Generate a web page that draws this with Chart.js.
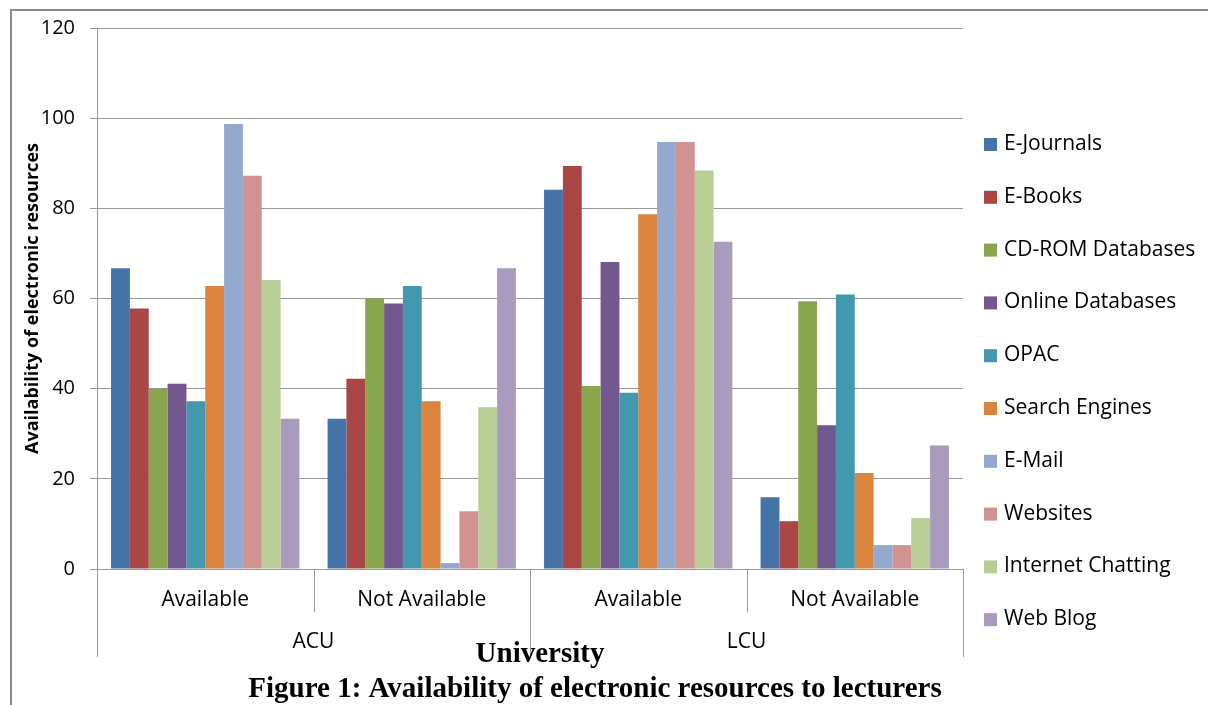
<!DOCTYPE html>
<html>
<head>
<meta charset="utf-8">
<script src="https://cdn.jsdelivr.net/npm/chart.js@4.4.0/dist/chart.umd.min.js"></script>
<style>
  body { margin: 0; background: #fff; }
  canvas { display: block; }
</style>
</head>
<body>
<canvas id="resChart" width="1208" height="705"></canvas>
<script>
// inner categories and outer groups of the x axis
var categories = ['Available', 'Not Available', 'Available', 'Not Available'];
var universities = ['ACU', 'LCU'];
var yTicks = [0, 20, 40, 60, 80, 100, 120];

// values: ACU available, ACU not available, LCU available, LCU not available
var eJournals = [66.7, 33.3, 84.1, 15.9];
var eBooks = [57.8, 42.2, 89.4, 10.6];
var cdRom = [40.0, 60.0, 40.6, 59.4];
var onlineDb = [41.1, 58.9, 68.1, 31.9];
var opac = [37.2, 62.8, 39.1, 60.9];
var searchEngines = [62.8, 37.2, 78.7, 21.3];
var eMail = [98.7, 1.3, 94.7, 5.3];
var websites = [87.2, 12.8, 94.7, 5.3];
var chatting = [64.1, 35.9, 88.4, 11.3];
var webBlog = [33.3, 66.7, 72.6, 27.4];

var seriesNames = ['E-Journals', 'E-Books', 'CD-ROM Databases', 'Online Databases', 'OPAC',
  'Search Engines', 'E-Mail', 'Websites', 'Internet Chatting', 'Web Blog'];
var seriesValues = [eJournals, eBooks, cdRom, onlineDb, opac, searchEngines, eMail, websites, chatting, webBlog];
var seriesColors = ['#4572A7', '#AA4643', '#89A54E', '#71588F', '#4198AF',
  '#DB843D', '#93A9CF', '#D19392', '#B9CD96', '#A99BBD'];

var sans = "'Open Sans', sans-serif";
var serif = "'Liberation Serif', 'Times New Roman', serif";
var lineCol = '#999999';

// frame, axis separators, group labels, legend and captions
var extras = {
  id: 'extras',
  beforeDraw: function (chart) {
    var ctx = chart.ctx;
    ctx.save();
    ctx.strokeStyle = '#8c8c8c';
    ctx.lineWidth = 2;
    ctx.beginPath();
    ctx.moveTo(1208, 10);
    ctx.lineTo(11, 10);
    ctx.lineTo(11, 705);
    ctx.stroke();
    ctx.restore();
  },
  afterDraw: function (chart) {
    var ctx = chart.ctx;
    var x = chart.scales.x;
    var area = chart.chartArea;
    var half = (x.getPixelForValue(1) - x.getPixelForValue(0)) / 2;
    var start = x.getPixelForValue(0) - half;
    var perGroup = categories.length / universities.length;
    ctx.save();
    ctx.strokeStyle = lineCol;
    ctx.lineWidth = 1;
    for (var k = 0; k <= categories.length; k++) {
      var bx = Math.round(start + k * 2 * half) + 0.5;
      ctx.beginPath();
      ctx.moveTo(bx, area.bottom);
      ctx.lineTo(bx, k % perGroup === 0 ? area.bottom + 88 : area.bottom + 43);
      ctx.stroke();
    }
    ctx.fillStyle = '#000';
    ctx.font = '21px ' + sans;
    ctx.textAlign = 'center';
    ctx.textBaseline = 'middle';
    universities.forEach(function (u, g) {
      var cx = start + (g * perGroup + perGroup / 2) * 2 * half;
      ctx.fillText(u, cx, area.bottom + 73);
    });

    // legend
    ctx.textAlign = 'left';
    chart.data.datasets.forEach(function (ds, i) {
      var ly = 144 + i * 52.8;
      ctx.fillStyle = ds.backgroundColor;
      ctx.fillRect(984, ly - 6, 13, 13);
      ctx.fillStyle = '#000';
      ctx.fillText(ds.label, 1004, ly);
    });

    ctx.font = 'bold 29px ' + serif;
    ctx.textAlign = 'center';
    ctx.fillText('University', 540, 655);
    ctx.font = 'bold 29px ' + serif;
    ctx.fillText('Figure 1: Availability of electronic resources to lecturers', 595, 690);
    ctx.restore();
  }
};

var ctx = document.getElementById('resChart');
var resChart = new Chart(ctx, {
  type: 'bar',
  data: {
    labels: categories,
    datasets: seriesNames.map(function (name, i) {
      return {
        label: name,
        data: seriesValues[i],
        backgroundColor: seriesColors[i],
        borderWidth: 0,
        categoryPercentage: 0.87,
        barPercentage: 1.0
      };
    })
  },
  options: {
    responsive: false,
    animation: false,
    devicePixelRatio: 1,
    layout: { padding: { left: 0, top: 28, right: 245, bottom: 0 } },
    plugins: {
      legend: { display: false },
      tooltip: { enabled: false }
    },
    scales: {
      x: {
        grid: { display: false },
        border: { display: true, color: lineCol },
        ticks: { color: '#000', padding: 10, font: { family: sans, size: 21 } },
        afterFit: function (s) { s.height = 136; }
      },
      y: {
        min: 0,
        max: 120,
        afterBuildTicks: function (s) { s.ticks = yTicks.map(function (v) { return { value: v }; }); },
        grid: { color: lineCol, tickLength: 7 },
        border: { display: true, color: lineCol },
        ticks: { color: '#000', padding: 15, font: { family: sans, size: 20 } },
        title: {
          display: true,
          text: 'Availability of electronic resources',
          color: '#000',
          padding: { top: 22, bottom: 0 },
          font: { family: sans, size: 18, weight: 'bold' }
        },
        afterFit: function (s) { s.width = 97; }
      }
    }
  },
  plugins: [extras]
});
</script>
</body>
</html>
